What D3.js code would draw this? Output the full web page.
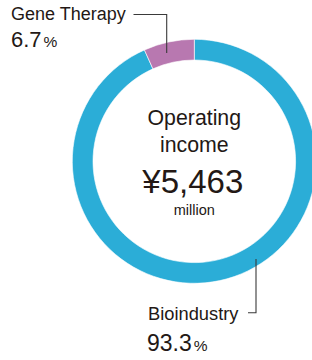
<!DOCTYPE html>
<html><head><meta charset="utf-8">
<script src="https://cdn.jsdelivr.net/npm/d3@7"></script>
<style>
html,body{margin:0;padding:0;background:#fff;}
svg{display:block;font-family:"Liberation Sans",Arial,Helvetica,sans-serif;}
</style></head>
<body>
<script>
const categories = ["Bioindustry", "Gene Therapy"];
const shares = [93.3, 6.7];
const colors = ["#2badd7", "#b878b0"];
const centerLines = ["Operating", "income"];
const totalLabel = "¥5,463";
const unitLabel = "million";

const W = 312, H = 360;
const cx = 194.3, cy = 161.3, rOuter = 122, rInner = 101.3;
const ink = "#231815";

const svg = d3.select("body").append("svg").attr("width", W).attr("height", H);
const g = svg.append("g").attr("transform", `translate(${cx},${cy})`);

const pie = d3.pie().sort(null).value(d => d.v);
const arc = d3.arc().innerRadius(rInner).outerRadius(rOuter);
const data = categories.map((c, i) => ({c, v: shares[i], col: colors[i]}));
g.selectAll("path").data(pie(data)).join("path")
  .attr("d", arc).attr("fill", d => d.data.col)
  .attr("stroke", "#fff").attr("stroke-width", 0.6);

// center text
g.append("text").attr("text-anchor","middle").attr("y", 125 - cy).attr("font-size", 21.3).attr("fill", ink).text(centerLines[0]);
g.append("text").attr("text-anchor","middle").attr("y", 151.7 - cy).attr("font-size", 21.3).attr("fill", ink).text(centerLines[1]);
g.append("text").attr("text-anchor","middle").attr("x", -1.5).attr("y", 193.5 - cy).attr("font-size", 33).attr("fill", ink).text(totalLabel);
g.append("text").attr("text-anchor","middle").attr("y", 215 - cy).attr("font-size", 14.5).attr("fill", ink).text(unitLabel);

// Gene therapy label
const fmt = d3.format(".1f");
svg.append("text").attr("x", 11).attr("y", 19.5).attr("font-size", 18).attr("fill", ink).text(categories[1]);
const t1 = svg.append("text").attr("x", 11).attr("y", 46.7).attr("fill", ink);
t1.append("tspan").attr("font-size", 22).text(fmt(shares[1]));
t1.append("tspan").attr("font-size", 15.5).attr("dx", 2).text("%");
svg.append("path").attr("d", "M133.5,14.5H166.7V53").attr("fill","none").attr("stroke","#3a3a3a").attr("stroke-width",1.1);

// Bioindustry label
svg.append("text").attr("x", 148).attr("y", 320).attr("font-size", 18.3).attr("fill", ink).text(categories[0]);
const t2 = svg.append("text").attr("x", 147).attr("y", 350.5).attr("fill", ink);
t2.append("tspan").attr("font-size", 23).text(fmt(shares[0]));
t2.append("tspan").attr("font-size", 15.5).attr("dx", 2).text("%");
svg.append("path").attr("d", "M248,312.7H256V259").attr("fill","none").attr("stroke","#3a3a3a").attr("stroke-width",1.1);
</script>
</body></html>
